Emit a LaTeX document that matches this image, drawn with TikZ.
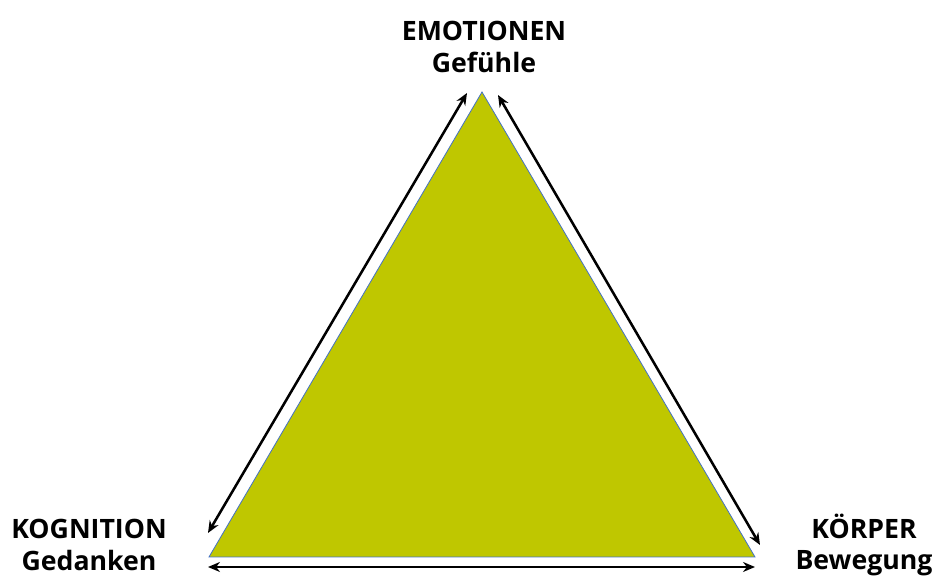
\documentclass[tikz,border=0pt]{standalone}
\usepackage{fontspec}
\setmainfont{Open Sans}
\usetikzlibrary{arrows.meta}
\definecolor{trOlive}{HTML}{BFC700}
\definecolor{trBlue}{HTML}{4472C4}

\begin{document}
\begin{tikzpicture}[x=0.75pt,y=0.75pt,
  corner/.style={font=\fontsize{20}{23.5}\selectfont\bfseries,align=center},
  link/.style={line width=1.9pt,{Stealth[length=9pt,width=7.5pt]}-{Stealth[length=9pt,width=7.5pt]}}]
\useasboundingbox (0,0) rectangle (933,582);
% triangle
\coordinate (top) at (482,490);
\coordinate (left) at (209,25);
\coordinate (right) at (755,25);
\fill[trOlive] (top)--(left)--(right)--cycle;
\draw[trBlue,line width=0.6pt] (top)--(left)--(right)--cycle;
% labels
\node[corner] (emo) at (484,535) {EMOTIONEN\\Gefühle};
\node[corner] (kog) at (89,37) {KOGNITION\\Gedanken};
\node[corner] (koe) at (864,37) {KÖRPER\\Bewegung};
% arrows along the sides
\coordinate (l1) at (467,489);
\coordinate (l2) at (208,49);
\coordinate (r1) at (498,487);
\coordinate (r2) at (760,37);
\coordinate (b1) at (208,15);
\coordinate (b2) at (755,15);
\draw[link] (l2)--(l1);
\draw[link] (r1)--(r2);
\draw[link] (b1)--(b2);
\end{tikzpicture}
\end{document}
